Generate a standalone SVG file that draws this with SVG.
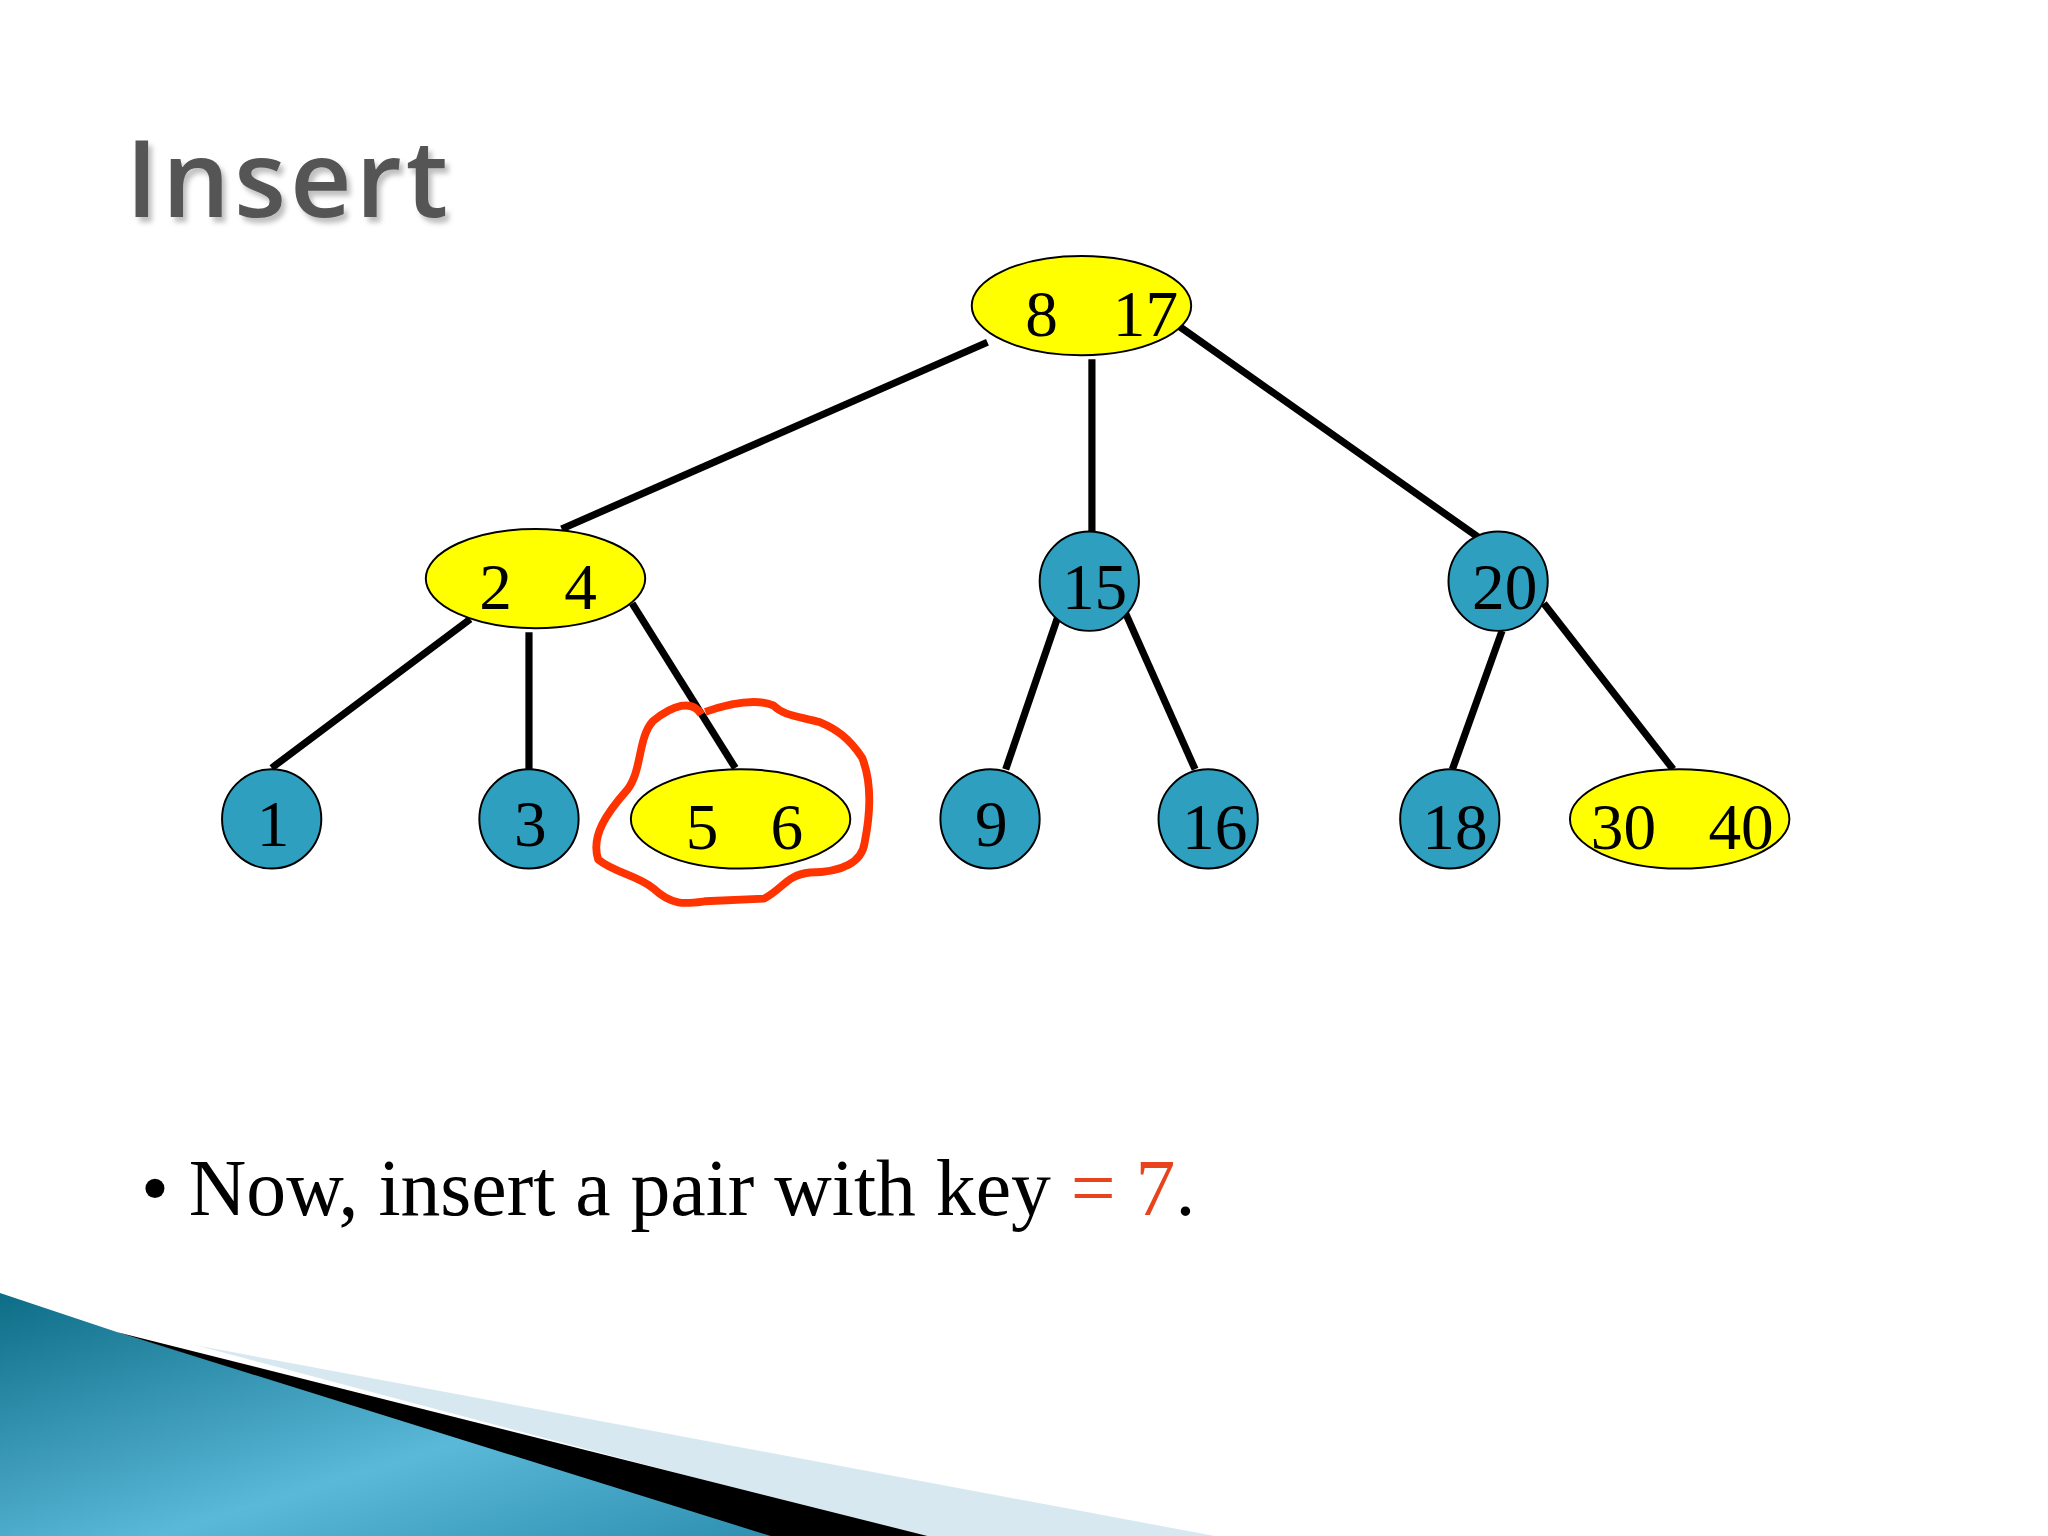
<svg xmlns="http://www.w3.org/2000/svg" width="2048" height="1536" viewBox="0 0 2048 1536">
<style>
.y{fill:#ffff00;stroke:#000;stroke-width:1.5}
.b{fill:#2e9fbf;stroke:#000;stroke-width:1.5}
.t{font-family:"Liberation Serif",serif;font-size:50px;fill:#000}
#connectors line{stroke:#000;stroke-width:5.5}
</style>
<defs>
<linearGradient id="g" x1="0" y1="0" x2="1" y2="1">
<stop offset="0" stop-color="#0d6d87"/><stop offset="0.6" stop-color="#5ab8d8"/><stop offset="1" stop-color="#2d8fb0"/>
</linearGradient>
<filter id="sh" x="-10%" y="-20%" width="130%" height="150%">
<feDropShadow dx="3" dy="4" stdDeviation="2" flood-color="#000" flood-opacity="0.25"/>
</filter>
</defs>
<rect width="2048" height="1536" fill="#fff"/>
<g transform="scale(1.30612)">
<text x="96" y="166" font-family="Open Sans,sans-serif" font-weight="600" font-size="82" letter-spacing="3" fill="#555" filter="url(#sh)">Insert</text>
<polygon points="150,1030 930,1176 700,1176" fill="#d8e8f0"/>
<polygon points="0,990 90,1020 600,1176 0,1176" fill="url(#g)"/>
<polygon points="90,1020 710,1176 590,1176" fill="#000"/>
<g id="connectors">
<line x1="756" y1="262" x2="430" y2="405"/>
<line x1="836" y1="275" x2="836" y2="407"/>
<line x1="903" y1="250" x2="1137" y2="415"/>
<line x1="360" y1="474" x2="208" y2="588"/>
<line x1="405" y1="484" x2="405" y2="589"/>
<line x1="484" y1="462" x2="563" y2="588"/>
<line x1="810" y1="472" x2="770" y2="589"/>
<line x1="862" y1="470" x2="915" y2="589"/>
<line x1="1150" y1="483" x2="1112" y2="589"/>
<line x1="1182" y1="462" x2="1281" y2="589"/>
</g>
<g id="n817"><ellipse class="y" cx="828" cy="234" rx="84" ry="38"/><text class="t" x="785" y="257">8</text><text class="t" x="852" y="257">17</text></g>
<g id="n24"><ellipse class="y" cx="410" cy="443" rx="84" ry="38"/><text class="t" x="367" y="466">2</text><text class="t" x="432" y="466">4</text></g>
<g id="n15"><circle class="b" cx="834" cy="445" r="38"/><text class="t" x="838" y="466" text-anchor="middle">15</text></g>
<g id="n20"><circle class="b" cx="1147" cy="445" r="38"/><text class="t" x="1152" y="466" text-anchor="middle">20</text></g>
<g id="n1"><circle class="b" cx="208" cy="627" r="38"/><text class="t" x="209" y="648" text-anchor="middle">1</text></g>
<g id="n3"><circle class="b" cx="405" cy="627" r="38"/><text class="t" x="406" y="648" text-anchor="middle">3</text></g>
<g id="n56"><ellipse class="y" cx="567" cy="627" rx="84" ry="38"/><text class="t" x="525" y="650">5</text><text class="t" x="590" y="650">6</text></g>
<g id="n9"><circle class="b" cx="758" cy="627" r="38"/><text class="t" x="759" y="648" text-anchor="middle">9</text></g>
<g id="n16"><circle class="b" cx="925" cy="627" r="38"/><text class="t" x="930" y="650" text-anchor="middle">16</text></g>
<g id="n18"><circle class="b" cx="1110" cy="627" r="38"/><text class="t" x="1114" y="650" text-anchor="middle">18</text></g>
<g id="n3040"><ellipse class="y" cx="1286" cy="627" rx="84" ry="38"/><text class="t" x="1218" y="650">30</text><text class="t" x="1308" y="650">40</text></g>
<path d="M537,547 C530,535 515,540 500,552 C488,565 492,590 480,605 C465,622 452,640 458,658 C470,668 488,670 500,680 C515,694 525,692 540,690 L585,688 C600,680 602,670 620,668 C645,668 660,660 662,645 C666,625 668,600 660,580 C650,565 640,558 628,553 C610,548 600,548 592,540 C580,535 560,538 540,545" fill="none" stroke="#ff3300" stroke-width="6" stroke-linejoin="round"/>
<text x="108" y="930" font-family="Liberation Serif,serif" font-size="61" fill="#000">• Now, insert a pair with key <tspan fill="#e8431c">= 7</tspan>.</text>
</g>
</svg>
